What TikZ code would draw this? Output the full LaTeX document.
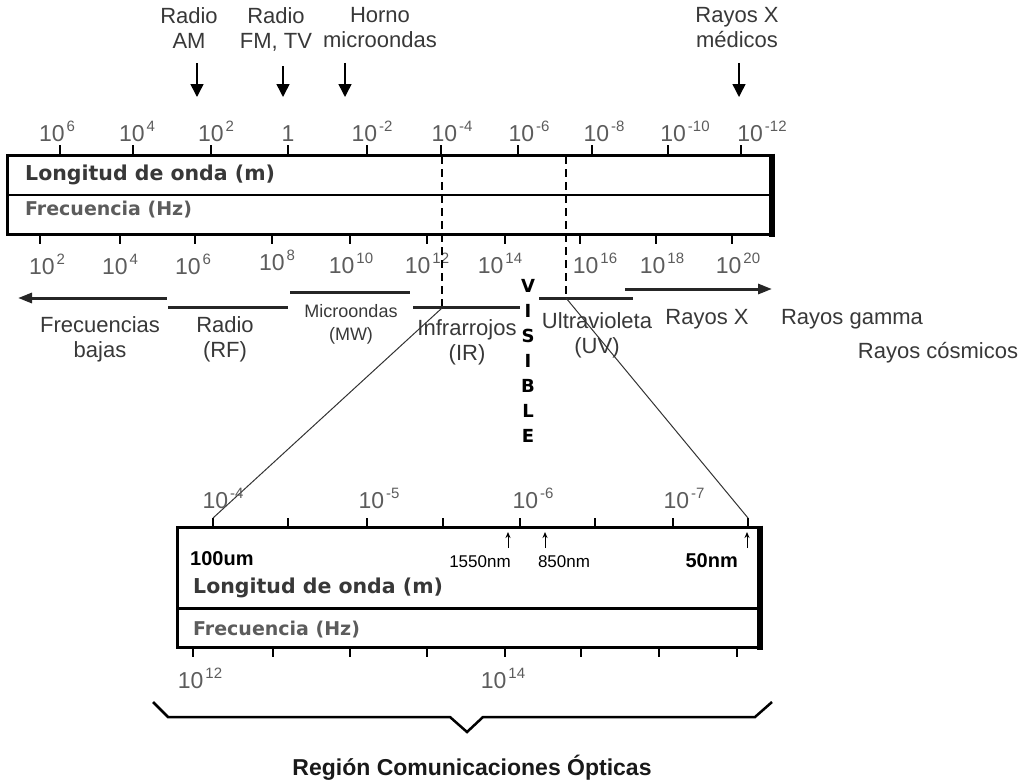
\documentclass[tikz,border=0pt]{standalone}
\usepackage{fontspec}
\setmainfont{Liberation Sans}
\newfontfamily\verdana{DejaVu Sans}
\usetikzlibrary{arrows.meta,positioning}
\definecolor{zgrau}{HTML}{5C5C5C}
\definecolor{tgrau}{HTML}{383838}
% Exponent hochgestellt
\newcommand\hoch[1]{\kern2pt\raisebox{10pt}{\fontsize{15}{15}\selectfont#1}}
\tikzset{
  zahl/.style={anchor=base,inner sep=0pt,text=zgrau,font=\fontsize{23}{23}\selectfont},
  beschr/.style={anchor=north,inner sep=0pt,align=center,text=tgrau,
    font=\fontsize{22}{25}\selectfont},
  titel/.style={anchor=base west,inner sep=0pt,font=\verdana\bfseries\fontsize{20.5}{20.5}\selectfont},
  fett/.style={inner sep=0pt,font=\bfseries\fontsize{20}{20}\selectfont},
  klein/.style={anchor=base,inner sep=0pt,font=\fontsize{17}{17}\selectfont},
  sichtbar/.style={anchor=base,inner sep=0pt,font=\verdana\bfseries\fontsize{18}{18}\selectfont},
  kasten/.style={line width=3pt},
  achse/.style={line width=2.5pt},
  band/.style={line width=3pt,black!85},
  hinweis/.style={line width=1.5pt,-{Triangle[width=13pt,length=13pt]}},
  pfeilchen/.style={line width=1pt,-{Stealth[width=5pt,length=6pt]}},
  strichel/.style={line width=1.5pt,dash pattern=on 8pt off 5pt},
  lupe/.style={line width=1pt,black!80}
}

\begin{document}
\begin{tikzpicture}[x=1pt,y=-1pt]
\useasboundingbox (0,0) rectangle (1032,782);
% obere Skala
\draw[kasten] (7,155) rectangle (772,234);
\draw[line width=6pt] (772,153.5) -- (772,236.5);
\draw[line width=2pt] (7,195) -- (772,195);
\foreach \x in {60,133,211,288,367,441,518,592,668,741}
  \draw[achse] (\x,145) -- (\x,155);
\foreach \x in {40,120,195,272,350,427,505,580,656,732}
  \draw[achse] (\x,234) -- (\x,244);
\node[titel,text=tgrau] (lo) at (25,180) {Longitud de onda (m)};
\node[titel,text=zgrau,font=\verdana\bfseries\fontsize{19}{19}\selectfont] (fr) at (25,215) {Frecuencia (Hz)};
% Beschriftung der Skala
\foreach \x/\t [count=\i] in {57/{10\hoch{6}},137/{10\hoch{4}},216/{10\hoch{2}},288/1,
    372/{10\hoch{-2}},452/{10\hoch{-4}},529/{10\hoch{-6}},604/{10\hoch{-8}},
    685/{10\hoch{-10}},762/{10\hoch{-12}}}
  \node[zahl] (l\i) at (\x,141) {\t};
\foreach \x/\e/\y [count=\i] in {47/2/274,120/4/274,193/6/274,277/8/270,351/10/273,
    427/12/273,500/14/273,595/16/273,662/18/273,738/20/273}
  \node[zahl] (f\i) at (\x,\y) {10\hoch{\e}};
% Anwendungen oben
\node[beschr] (am) at (189,7) {Radio\\AM};
\node[beschr] (fm) at (276,7) {Radio\\FM, TV};
\node[beschr] (mo) at (380,7) {Horno\\microondas};
\node[beschr] (rxm) at (737,7) {Rayos X\\médicos};
\coordinate (amp) at (197,97);
\coordinate (fmp) at (283,97);
\coordinate (mop) at (345,97);
\coordinate (rxp) at (739,97);
\foreach \n/\p in {am/amp,fm/fmp,mo/mop,rxm/rxp}
  \draw[hinweis] (\n.south -| \p) ++(0,15) -- (\p);
% Grenzen des sichtbaren Bereichs
\coordinate (ir) at (442,308);
\coordinate (uv) at (566,298);
\draw[strichel] (442,156) -- (ir);
\draw[strichel] (566,156) -- (uv);
% Baender
\draw[band,{Triangle[width=10pt,length=14pt]}-] (18,298) -- (167,298);
\draw[band] (168,307) -- (288,307);
\draw[band] (290,292) -- (410,292);
\draw[band] (413,307) -- (520,307);
\draw[band] (539,298) -- (633,298);
\draw[band,-{Triangle[width=10pt,length=14pt]}] (625,289) -- (772,289);
\node[beschr] (nf) at (100,316) {Frecuencias\\bajas};
\node[beschr] (rf) at (225,316) {Radio\\(RF)};
\node[beschr,font=\fontsize{18}{23}\selectfont] (mw) at (351,304) {Microondas\\(MW)};
\node[beschr] (irl) at (467,319) {Infrarrojos\\(IR)};
\node[beschr] (uvl) at (597,312) {Ultravioleta\\(UV)};
\node[beschr] (rx) at (707,309) {Rayos X};
\node[beschr] (rg) at (852,309) {Rayos gamma};
\node[beschr] (rc) at (938,342) {Rayos cósmicos};
\foreach \b [count=\i] in {V,I,S,I,B,L,E}
  \node[sichtbar] (v\i) at (528,{267+25*\i}) {\b};
% untere Skala (Ausschnitt)
\draw[kasten] (177,527) rectangle (760,647);
\draw[line width=6pt] (760,525.5) -- (760,649.5);
\draw[line width=3pt] (177,608) -- (760,608);
\foreach \x in {213,288,367,443,520,595,673,748}
  \draw[achse] (\x,518) -- (\x,527);
\foreach \x in {193,273,350,427,505,581,659,737}
  \draw[achse] (\x,647) -- (\x,657);
\coordinate (ua) at (213,518);
\coordinate (ub) at (748,518);
\draw[lupe] (ir) -- (ua);
\draw[lupe] (uv) -- (ub);
\foreach \x/\e [count=\i] in {223/-4,379/-5,533/-6,684/-7}
  \node[zahl] (w\i) at (\x,508) {10\hoch{\e}};
\node[zahl] (h12) at (200,688) {10\hoch{12}};
\node[zahl] (h14) at (503,688) {10\hoch{14}};
\node[fett,anchor=base west] (um) at (190,565) {100um};
\node[klein] (n1550) at (480,567) {1550nm};
\node[klein] (n850) at (564,567) {850nm};
\node[fett,anchor=base east] (n50) at (738,567) {50nm};
\coordinate (p1550) at (508,532);
\coordinate (p850) at (545,532);
\coordinate (p50) at (747,532);
\foreach \p in {p1550,p850,p50}
  \draw[pfeilchen] (\p) ++(0,16) -- (\p);
\node[titel,text=tgrau] (lo2) at (193,593) {Longitud de onda (m)};
\node[titel,text=zgrau,font=\verdana\bfseries\fontsize{19}{19}\selectfont] (fr2) at (193,635) {Frecuencia (Hz)};
% Klammer
\draw[line width=2.5pt] (153,702) -- (168,717) -- (450,717) -- (467,732)
  -- (483,717) -- (755,717) -- (772,702);
\node[anchor=base,inner sep=0pt,font=\bfseries\fontsize{23}{23}\selectfont,text=black!90]
  (reg) at (472,775) {Región Comunicaciones Ópticas};
\end{tikzpicture}
\end{document}
